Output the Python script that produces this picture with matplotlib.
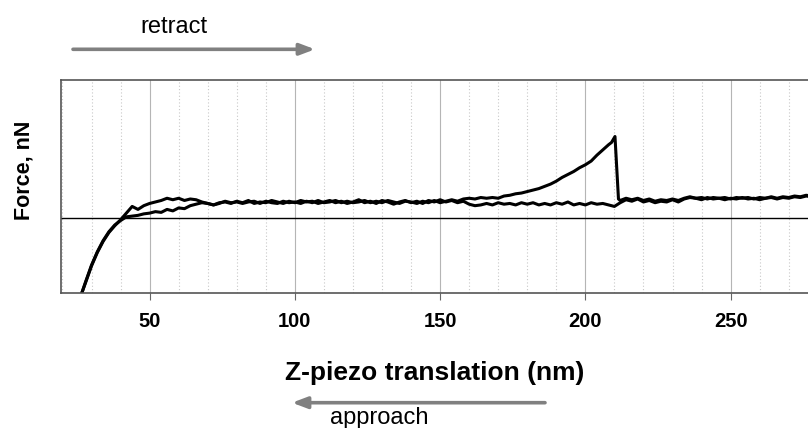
import matplotlib
matplotlib.use("Agg")
import matplotlib.pyplot as plt
from matplotlib.ticker import MultipleLocator

plt.rcParams['font.family'] = ['Liberation Sans', 'DejaVu Sans']

# approach curve (flat through the rupture region)
z_app = [26.7, 28, 30, 32, 34, 36, 38, 40, 42, 44, 46, 48, 50, 52, 54, 56, 58, 60,
         62, 64, 66, 68, 70, 72, 74, 76, 78, 80, 82, 84, 86, 88, 90, 92, 94, 96,
         98, 100, 102, 104, 106, 108, 110, 112, 114, 116, 118, 120, 122, 124, 126,
         128, 130, 132, 134, 136, 138, 140, 142, 144, 146, 148, 150, 152, 154, 156,
         158, 160, 162, 164, 166, 168, 170, 172, 174, 176, 178, 180, 182, 184, 186,
         188, 190, 192, 194, 196, 198, 200, 202, 204, 206, 208, 210, 212, 214, 216,
         218, 220, 222, 224, 226, 228, 230, 232, 234, 236, 238, 240, 242, 244, 246,
         248, 250, 252, 254, 256, 258, 260, 262, 264, 266, 268, 270, 272, 274, 276, 278]
f_app = [-1.0, -0.86, -0.64, -0.46, -0.31, -0.19, -0.10, -0.02, 0.07, 0.16, 0.12, 0.17,
         0.20, 0.22, 0.24, 0.27, 0.25, 0.27, 0.24, 0.26, 0.25, 0.22, 0.20, 0.18, 0.21,
         0.22, 0.20, 0.23, 0.21, 0.24, 0.20, 0.22, 0.21, 0.24, 0.22, 0.20, 0.23, 0.21,
         0.24, 0.22, 0.23, 0.20, 0.22, 0.24, 0.21, 0.23, 0.20, 0.22, 0.25, 0.21, 0.23,
         0.20, 0.24, 0.22, 0.19, 0.22, 0.24, 0.21, 0.23, 0.20, 0.24, 0.22, 0.25, 0.22,
         0.24, 0.21, 0.23, 0.19, 0.17, 0.18, 0.20, 0.18, 0.21, 0.19, 0.20, 0.18, 0.21,
         0.19, 0.21, 0.18, 0.20, 0.18, 0.21, 0.19, 0.22, 0.18, 0.20, 0.18, 0.21, 0.19,
         0.20, 0.18, 0.16, 0.21, 0.25, 0.23, 0.26, 0.22, 0.24, 0.21, 0.23, 0.22, 0.25,
         0.22, 0.26, 0.28, 0.27, 0.25, 0.28, 0.26, 0.27, 0.25, 0.27, 0.26, 0.28, 0.26,
         0.27, 0.25, 0.27, 0.28, 0.26, 0.28, 0.27, 0.29, 0.28, 0.30, 0.29]

# retract curve (adhesion peak then rupture near 210 nm)
z_ret = [26.7, 28, 30, 32, 34, 36, 38, 40, 42, 44, 46, 48, 50, 52, 54, 56, 58, 60,
         62, 64, 66, 68, 70, 72, 74, 76, 78, 80, 82, 84, 86, 88, 90, 92, 94, 96,
         98, 100, 102, 104, 106, 108, 110, 112, 114, 116, 118, 120, 122, 124, 126,
         128, 130, 132, 134, 136, 138, 140, 142, 144, 146, 148, 150, 152, 154, 156,
         158, 160, 162, 164, 166, 168, 170, 172, 174, 176, 178, 180, 182, 184, 186,
         188, 190, 192, 194, 196, 198, 200, 202, 204, 206, 208, 209, 210.2, 211.4,
         212, 214, 216, 218, 220, 222, 224, 226, 228, 230, 232, 234, 236, 238, 240,
         242, 244, 246, 248, 250, 252, 254, 256, 258, 260, 262, 264, 266, 268, 270,
         272, 274, 276, 278]
f_ret = [-1.0, -0.85, -0.63, -0.45, -0.30, -0.18, -0.09, -0.03, 0.02, 0.03, 0.04, 0.06,
         0.07, 0.09, 0.08, 0.12, 0.10, 0.14, 0.13, 0.17, 0.19, 0.21, 0.20, 0.18, 0.20,
         0.23, 0.21, 0.22, 0.20, 0.22, 0.23, 0.20, 0.23, 0.21, 0.20, 0.23, 0.21, 0.22,
         0.20, 0.23, 0.21, 0.24, 0.21, 0.22, 0.24, 0.21, 0.23, 0.21, 0.22, 0.24, 0.21,
         0.23, 0.21, 0.24, 0.22, 0.20, 0.23, 0.22, 0.20, 0.23, 0.21, 0.24, 0.21, 0.23,
         0.25, 0.23, 0.26, 0.27, 0.26, 0.28, 0.27, 0.28, 0.27, 0.30, 0.31, 0.33, 0.34,
         0.36, 0.38, 0.40, 0.43, 0.46, 0.50, 0.55, 0.59, 0.63, 0.68, 0.72, 0.77, 0.85,
         0.92, 0.99, 1.02, 1.10, 0.26, 0.24, 0.27, 0.25, 0.27, 0.24, 0.26, 0.23, 0.25,
         0.24, 0.26, 0.24, 0.27, 0.29, 0.27, 0.28, 0.26, 0.28, 0.27, 0.28, 0.26, 0.28,
         0.27, 0.28, 0.26, 0.28, 0.27, 0.29, 0.27, 0.29, 0.28, 0.30, 0.29, 0.31, 0.30]

x_ticks = [50, 100, 150, 200, 250]

fig = plt.figure(figsize=(8.08, 4.28), dpi=100)
ax = fig.add_axes([61 / 808, 135.3 / 428, 813.4 / 808, 212.7 / 428])

ax.plot(z_app, f_app, color='black', lw=2.2, solid_joinstyle='round')
ax.plot(z_ret, f_ret, color='black', lw=2.2, solid_joinstyle='round')
ax.axhline(0, color='black', lw=1.0)

ax.set_xlim(19.5, 299.5)
ax.set_ylim(-1.0, 1.86)
ax.set_xticks(x_ticks)
ax.xaxis.set_minor_locator(MultipleLocator(10))
ax.set_yticks([])
ax.grid(True, which='major', axis='x', color='#b5b5b5', lw=0.8, ls='-')
ax.grid(True, which='minor', axis='x', color='#c8c8c8', lw=0.8, ls=(0, (1, 2)))
ax.set_axisbelow(True)
ax.tick_params(axis='x', which='major', direction='out', length=5, color='#666666',
               pad=9, labelsize=14.5)
ax.tick_params(axis='x', which='minor', length=0)
for lab in ax.get_xticklabels():
    lab.set_fontweight('bold')
for side in ['left', 'top', 'bottom']:
    ax.spines[side].set_color('#555555')
    ax.spines[side].set_linewidth(1.2)

fig.text(24 / 808, (428 - 170) / 428, 'Force, nN', rotation=90, ha='center', va='center',
         fontsize=15.5, fontweight='bold')
fig.text(435 / 808, (428 - 380) / 428, 'Z-piezo translation (nm)', ha='center',
         va='baseline', fontsize=19, fontweight='bold')

# retract / approach arrows
arrow_style = dict(arrowstyle='-|>,head_length=0.45,head_width=0.17', color='#808080',
                   lw=2.6, mutation_scale=20, shrinkA=0, shrinkB=0)
ax.annotate('', xy=(315, 428 - 49.3), xytext=(73, 428 - 49.3), xycoords='figure pixels',
            textcoords='figure pixels', arrowprops=arrow_style, annotation_clip=False)
ax.annotate('', xy=(292, 428 - 402.7), xytext=(545, 428 - 402.7), xycoords='figure pixels',
            textcoords='figure pixels', arrowprops=arrow_style, annotation_clip=False)
fig.text(173.5 / 808, (428 - 33) / 428, 'retract', ha='center', va='baseline', fontsize=17)
fig.text(379 / 808, (428 - 424) / 428, 'approach', ha='center', va='baseline', fontsize=17)

fig.savefig('out.png', dpi=100)
